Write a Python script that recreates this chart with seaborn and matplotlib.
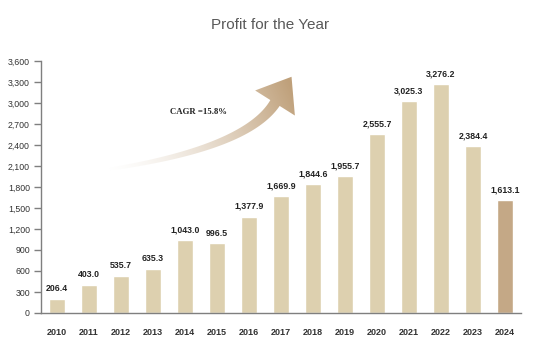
import numpy as np
import pandas as pd
import matplotlib
matplotlib.use("Agg")
import matplotlib.pyplot as plt
import seaborn as sns
from matplotlib.path import Path
from matplotlib.patches import PathPatch

years = ["2010", "2011", "2012", "2013", "2014", "2015", "2016", "2017",
         "2018", "2019", "2020", "2021", "2022", "2023", "2024"]
profit = [206.4, 403.0, 535.7, 635.3, 1043.0, 996.5, 1377.9, 1669.9,
          1844.6, 1955.7, 2555.7, 3025.3, 3276.2, 2384.4, 1613.1]
y_ticks = [0, 300, 600, 900, 1200, 1500, 1800, 2100, 2400, 2700, 3000, 3300, 3600]
title = "Profit for the Year"
cagr_text = "CAGR =15.8%"

sns.set_theme(style="white")
plt.rcParams["font.family"] = ["Liberation Sans", "DejaVu Sans"]

df = pd.DataFrame({"year": years, "profit": profit})
colors = ["#DDD0AF"] * (len(years) - 1) + ["#C4A886"]

fig = plt.figure(figsize=(5.35, 3.5), dpi=100)
ax = fig.add_axes([41 / 535, 1 - 313 / 350, 480 / 535, 252 / 350])
sns.barplot(data=df, x="year", y="profit", hue="year", palette=colors,
            legend=False, width=0.5, ax=ax, saturation=1)

ax.set_xlim(-0.5, len(years) - 0.5)
ax.set_ylim(0, 3600)
ax.set_yticks(y_ticks)
ax.set_yticklabels([f"{v:,}" for v in y_ticks], fontsize=6.3, color="#333333")
ax.set_xticks(np.arange(len(years)))
ax.set_xticklabels(years, fontsize=6.5, color="#333333", fontweight="bold")
ax.set_xticks(np.arange(-0.5, len(years) + 0.5, 1), minor=True)
ax.tick_params(axis="x", which="major", length=0, pad=11)
ax.tick_params(axis="x", which="minor", length=5, width=1, color="#7f7f7f", direction="out")
ax.tick_params(axis="y", length=5, width=1, color="#7f7f7f", direction="out", pad=3, left=True)
ax.set_xlabel("")
ax.set_ylabel("")
for s in ["top", "right"]:
    ax.spines[s].set_visible(False)
for s in ["left", "bottom"]:
    ax.spines[s].set_color("#7f7f7f")
    ax.spines[s].set_linewidth(1)

for i, v in enumerate(profit):
    ax.annotate(f"{v:,.1f}", (i, v), xytext=(0, 4), textcoords="offset points",
                ha="center", va="bottom", fontsize=6.3, fontweight="bold", color="#222222")

fig.text(270 / 535, 1 - 25 / 350, title, ha="center", va="center", fontsize=11, color="#595959")

# decorative gradient arrow in pixel overlay
ov = fig.add_axes([0, 0, 1, 1], zorder=5)
ov.set_xlim(0, 535)
ov.set_ylim(350, 0)
ov.axis("off")
ov.patch.set_alpha(0)

P0 = np.array([104.0, 170.0]); C = np.array([246.0, 149.0]); P2 = np.array([275.0, 103.0])
t = np.linspace(0, 1, 60)
pts = ((1 - t) ** 2)[:, None] * P0 + (2 * (1 - t) * t)[:, None] * C + (t ** 2)[:, None] * P2
d = (2 * (1 - t))[:, None] * (C - P0) + (2 * t)[:, None] * (P2 - C)
d /= np.linalg.norm(d, axis=1)[:, None]
nrm = np.stack([-d[:, 1], d[:, 0]], axis=1)
w = 1.5 + 4.0 * t
upper = pts + nrm * w[:, None]
lower = pts - nrm * w[:, None]
dh = d[-1]; nh = nrm[-1]
b1 = P2 + nh * 23.5
b2 = P2 - nh * 23.5
tip = P2 + dh * 31
poly = np.vstack([upper, b1, tip, b2, lower[::-1], upper[:1]])
path = Path(poly)
patch = PathPatch(path, facecolor="none", edgecolor="none")
ov.add_patch(patch)

gx = np.linspace(0, 535, 535)
gy = np.linspace(0, 350, 350)
GX, GY = np.meshgrid(gx, gy)
start = np.array([104.0, 170.0]); end = np.array([290.0, 85.0])
vec = end - start
proj = ((GX - start[0]) * vec[0] + (GY - start[1]) * vec[1]) / (vec @ vec)
proj = np.clip(proj, 0, 1) ** 1.5
rgba = np.zeros((350, 535, 4))
base = np.array([0.75, 0.63, 0.48])
rgba[..., :3] = base
rgba[..., 3] = proj
im = ov.imshow(rgba, extent=(0, 535, 350, 0), origin="upper", interpolation="bilinear")
im.set_clip_path(patch)
ov.set_xlim(0, 535)
ov.set_ylim(350, 0)

fig.text(198 / 535, 1 - 112 / 350, cagr_text, ha="center", va="center", fontsize=6.3,
         fontweight="bold", color="#222222", family=["Liberation Serif", "DejaVu Serif"])

fig.savefig("out.png", dpi=100, facecolor="white")
